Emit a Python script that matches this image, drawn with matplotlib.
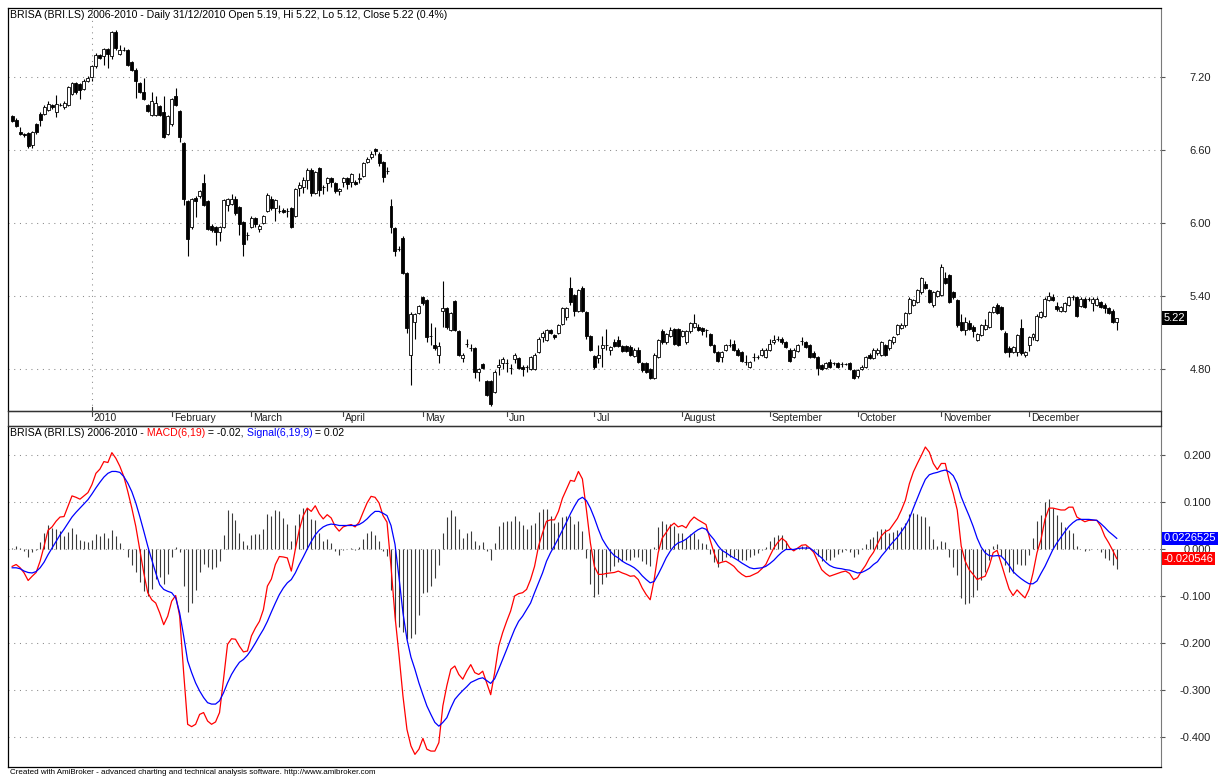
import numpy as np
import pandas as pd
import matplotlib
matplotlib.use("Agg")
import matplotlib.pyplot as plt
import matplotlib.transforms as mtransforms
from matplotlib.lines import Line2D
from matplotlib.patches import Rectangle

plt.rcParams['font.family'] = ['Liberation Sans', 'DejaVu Sans']

# ---- data (BRISA daily, 03/12/2009 - 31/12/2010) ----
holidays = pd.to_datetime(["2009-12-25", "2010-01-01", "2010-04-02", "2010-04-05"])
dates = pd.bdate_range("2009-12-03", "2010-12-31")
dates = dates[~dates.isin(holidays)]

open_ = [
    6.88, 6.85, 6.75, 6.73, 6.74, 6.64, 6.81, 6.90, 6.90, 6.93,
    6.97, 6.91, 6.97, 6.95, 6.97, 7.06, 7.15, 7.14, 7.10, 7.17,
    7.20, 7.29, 7.38, 7.37, 7.43, 7.37, 7.57, 7.39, 7.42, 7.42,
    7.32, 7.26, 7.15, 7.08, 6.97, 6.89, 6.89, 6.96, 6.91, 6.73,
    6.81, 7.04, 6.92, 6.66, 6.18, 5.97, 6.21, 6.22, 6.33, 6.18,
    5.98, 5.97, 5.93, 5.97, 6.15, 6.16, 6.20, 6.13, 6.01, 5.90,
    5.97, 6.04, 5.95, 6.00, 6.10, 6.20, 6.12, 6.10, 6.11, 6.10,
    6.12, 6.06, 6.29, 6.30, 6.35, 6.44, 6.25, 6.45, 6.30, 6.33,
    6.37, 6.33, 6.26, 6.34, 6.37, 6.34, 6.34, 6.36, 6.39, 6.50,
    6.54, 6.61, 6.57, 6.50, 6.43, 6.14, 5.96, 5.79, 5.88, 5.59,
    4.92, 5.19, 5.26, 5.39, 5.37, 5.07, 5.00, 4.92, 5.28, 5.30,
    5.12, 5.36, 5.11, 4.89, 5.01, 4.97, 4.97, 4.78, 4.84, 4.70,
    4.70, 4.61, 4.82, 4.85, 4.85, 4.81, 4.88, 4.89, 4.82, 4.82,
    4.80, 4.80, 4.94, 5.06, 5.04, 5.12, 5.08, 5.10, 5.17, 5.23,
    5.47, 5.41, 5.28, 5.47, 5.27, 5.07, 4.91, 4.89, 4.97, 5.00,
    4.96, 5.02, 5.04, 4.99, 4.99, 4.98, 4.91, 4.96, 4.85, 4.85,
    4.80, 4.73, 4.90, 5.11, 5.02, 5.07, 5.13, 5.13, 5.07, 5.02,
    5.11, 5.15, 5.15, 5.14, 5.12, 5.09, 5.00, 4.94, 4.90, 4.96,
    5.00, 5.01, 4.96, 4.94, 4.86, 4.82, 4.90, 4.90, 4.92, 4.90,
    4.96, 5.02, 5.05, 5.05, 5.02, 4.96, 4.90, 4.95, 5.03, 5.02,
    5.00, 4.93, 4.90, 4.83, 4.81, 4.86, 4.85, 4.85, 4.84, 4.84,
    4.85, 4.79, 4.74, 4.80, 4.82, 4.92, 4.89, 4.93, 4.92, 5.00,
    4.97, 5.02, 5.09, 5.14, 5.16, 5.26, 5.33, 5.35, 5.43, 5.50,
    5.45, 5.33, 5.40, 5.41, 5.55, 5.57, 5.43, 5.37, 5.19, 5.12,
    5.18, 5.15, 5.04, 5.08, 5.13, 5.15, 5.27, 5.33, 5.31, 5.10,
    4.97, 4.94, 4.94, 5.14, 4.92, 5.00, 5.06, 5.04, 5.23, 5.24,
    5.37, 5.39, 5.32, 5.28, 5.28, 5.33, 5.39, 5.39, 5.32, 5.38,
    5.38, 5.34, 5.33, 5.35, 5.33, 5.30, 5.28, 5.19,
]
high_ = [
    6.89, 6.86, 6.79, 6.74, 6.75, 6.76, 6.82, 6.91, 6.97, 7.00,
    6.98, 7.05, 6.99, 7.00, 7.13, 7.16, 7.16, 7.15, 7.18, 7.21,
    7.30, 7.40, 7.39, 7.44, 7.44, 7.58, 7.59, 7.46, 7.45, 7.43,
    7.33, 7.27, 7.16, 7.19, 6.98, 7.08, 7.04, 6.97, 7.04, 6.89,
    7.03, 7.11, 6.93, 6.67, 6.19, 6.21, 6.22, 6.27, 6.40, 6.19,
    5.99, 5.98, 5.98, 6.20, 6.21, 6.24, 6.22, 6.14, 6.02, 5.93,
    6.06, 6.05, 5.99, 6.07, 6.25, 6.22, 6.20, 6.15, 6.12, 6.12,
    6.13, 6.29, 6.34, 6.38, 6.45, 6.45, 6.43, 6.46, 6.31, 6.38,
    6.38, 6.34, 6.29, 6.38, 6.38, 6.41, 6.35, 6.41, 6.50, 6.54,
    6.59, 6.62, 6.58, 6.51, 6.46, 6.20, 5.97, 5.81, 5.89, 5.60,
    5.27, 5.26, 5.33, 5.40, 5.38, 5.18, 5.15, 5.02, 5.52, 5.31,
    5.27, 5.37, 5.12, 4.93, 5.05, 5.01, 4.98, 4.81, 4.85, 4.71,
    4.71, 4.79, 4.88, 4.90, 4.88, 4.84, 4.93, 4.90, 4.83, 4.83,
    4.91, 4.93, 5.06, 5.11, 5.13, 5.13, 5.09, 5.17, 5.31, 5.31,
    5.56, 5.42, 5.46, 5.48, 5.28, 5.08, 4.92, 5.00, 5.07, 5.13,
    4.99, 5.05, 5.07, 5.00, 5.00, 5.00, 4.97, 4.98, 4.86, 4.86,
    4.81, 4.93, 5.05, 5.13, 5.10, 5.15, 5.14, 5.14, 5.12, 5.12,
    5.19, 5.25, 5.17, 5.15, 5.13, 5.10, 5.01, 4.95, 4.95, 5.01,
    5.05, 5.04, 4.97, 4.95, 4.92, 4.87, 4.93, 4.92, 4.97, 4.97,
    5.05, 5.08, 5.07, 5.06, 5.03, 4.97, 4.97, 5.01, 5.06, 5.03,
    5.01, 4.95, 4.91, 4.84, 4.86, 4.88, 4.86, 4.86, 4.86, 4.85,
    4.86, 4.80, 4.80, 4.83, 4.91, 4.93, 4.97, 4.97, 5.03, 5.01,
    5.05, 5.07, 5.17, 5.18, 5.27, 5.39, 5.38, 5.46, 5.56, 5.52,
    5.46, 5.44, 5.45, 5.66, 5.60, 5.58, 5.44, 5.38, 5.25, 5.23,
    5.20, 5.16, 5.10, 5.17, 5.21, 5.28, 5.32, 5.34, 5.32, 5.11,
    4.99, 4.99, 5.09, 5.21, 4.95, 5.07, 5.10, 5.25, 5.28, 5.39,
    5.43, 5.42, 5.35, 5.32, 5.35, 5.40, 5.41, 5.40, 5.39, 5.39,
    5.39, 5.39, 5.39, 5.36, 5.34, 5.31, 5.29, 5.22,
]
low_ = [
    6.83, 6.79, 6.72, 6.71, 6.62, 6.62, 6.73, 6.80, 6.89, 6.92,
    6.94, 6.87, 6.96, 6.94, 6.96, 7.05, 7.06, 7.02, 7.09, 7.16,
    7.17, 7.27, 7.35, 7.30, 7.27, 7.35, 7.42, 7.38, 7.41, 7.29,
    7.25, 7.03, 7.07, 7.01, 6.91, 6.88, 6.88, 6.88, 6.70, 6.72,
    6.80, 6.96, 6.67, 6.15, 5.73, 5.95, 6.05, 6.21, 6.14, 5.94,
    5.93, 5.82, 5.85, 5.96, 6.10, 6.15, 6.07, 5.90, 5.73, 5.86,
    5.96, 5.97, 5.93, 5.99, 6.09, 6.11, 6.02, 6.08, 6.08, 6.05,
    5.96, 6.05, 6.22, 6.25, 6.28, 6.22, 6.24, 6.22, 6.24, 6.26,
    6.30, 6.25, 6.23, 6.30, 6.28, 6.30, 6.31, 6.33, 6.38, 6.49,
    6.53, 6.56, 6.47, 6.34, 6.40, 5.92, 5.73, 5.77, 5.58, 5.10,
    4.67, 5.05, 5.25, 5.33, 5.02, 5.00, 4.96, 4.85, 5.15, 5.13,
    5.11, 5.11, 4.91, 4.86, 4.98, 4.95, 4.73, 4.70, 4.80, 4.58,
    4.50, 4.60, 4.75, 4.80, 4.78, 4.76, 4.85, 4.80, 4.74, 4.78,
    4.79, 4.79, 4.93, 5.02, 5.03, 5.09, 5.05, 5.09, 5.16, 5.20,
    5.33, 5.24, 5.27, 5.27, 5.05, 4.95, 4.80, 4.85, 4.82, 4.96,
    4.92, 4.98, 4.98, 4.94, 4.94, 4.91, 4.90, 4.85, 4.78, 4.77,
    4.72, 4.72, 4.89, 5.01, 5.01, 5.06, 5.00, 4.99, 5.06, 5.01,
    5.10, 5.14, 5.11, 5.08, 5.06, 4.99, 4.93, 4.86, 4.86, 4.95,
    4.98, 4.95, 4.91, 4.86, 4.83, 4.81, 4.87, 4.88, 4.91, 4.89,
    4.95, 5.01, 5.03, 5.01, 4.97, 4.86, 4.89, 4.94, 5.00, 4.97,
    4.89, 4.89, 4.75, 4.79, 4.80, 4.81, 4.83, 4.81, 4.82, 4.83,
    4.79, 4.72, 4.73, 4.79, 4.81, 4.88, 4.88, 4.92, 4.91, 4.91,
    4.96, 5.01, 5.08, 5.13, 5.15, 5.25, 5.32, 5.34, 5.42, 5.46,
    5.34, 5.31, 5.39, 5.40, 5.50, 5.34, 5.38, 5.15, 5.11, 5.08,
    5.12, 5.06, 5.03, 5.07, 5.12, 5.14, 5.26, 5.25, 5.12, 4.93,
    4.90, 4.93, 4.91, 4.92, 4.90, 4.95, 5.04, 5.03, 5.22, 5.23,
    5.36, 5.36, 5.28, 5.27, 5.27, 5.32, 5.37, 5.23, 5.31, 5.30,
    5.36, 5.28, 5.32, 5.30, 5.26, 5.25, 5.18, 5.12,
]
close_ = [
    6.84, 6.80, 6.73, 6.72, 6.63, 6.75, 6.75, 6.85, 6.95, 6.98,
    6.95, 6.98, 6.97, 6.99, 7.12, 7.15, 7.08, 7.09, 7.17, 7.19,
    7.29, 7.38, 7.36, 7.43, 7.39, 7.57, 7.44, 7.42, 7.42, 7.30,
    7.26, 7.17, 7.08, 7.02, 6.92, 7.00, 6.99, 6.89, 6.71, 6.88,
    7.02, 6.97, 6.71, 6.20, 5.87, 6.20, 6.18, 6.26, 6.15, 5.95,
    5.94, 5.93, 5.97, 6.19, 6.20, 6.20, 6.08, 5.99, 5.83, 5.90,
    6.04, 5.99, 5.98, 6.06, 6.23, 6.12, 6.19, 6.10, 6.09, 6.10,
    5.97, 6.28, 6.31, 6.35, 6.44, 6.25, 6.42, 6.27, 6.30, 6.37,
    6.34, 6.26, 6.28, 6.37, 6.32, 6.40, 6.32, 6.37, 6.49, 6.53,
    6.57, 6.59, 6.49, 6.38, 6.43, 5.97, 5.77, 5.79, 5.59, 5.14,
    5.25, 5.25, 5.32, 5.34, 5.06, 5.07, 4.97, 4.99, 5.30, 5.15,
    5.26, 5.12, 4.92, 4.92, 5.01, 4.97, 4.78, 4.80, 4.81, 4.59,
    4.51, 4.78, 4.83, 4.88, 4.85, 4.81, 4.92, 4.81, 4.80, 4.82,
    4.90, 4.92, 5.05, 5.10, 5.12, 5.10, 5.06, 5.16, 5.30, 5.30,
    5.35, 5.28, 5.45, 5.28, 5.07, 4.96, 4.82, 4.92, 5.00, 5.00,
    4.98, 4.99, 4.99, 4.95, 4.95, 4.92, 4.96, 4.86, 4.79, 4.78,
    4.73, 4.92, 5.04, 5.02, 5.09, 5.12, 5.01, 5.00, 5.11, 5.11,
    5.18, 5.18, 5.12, 5.11, 5.12, 5.00, 4.94, 4.87, 4.94, 5.00,
    5.00, 4.96, 4.92, 4.87, 4.86, 4.86, 4.90, 4.90, 4.96, 4.96,
    5.01, 5.04, 5.05, 5.02, 4.98, 4.87, 4.96, 5.00, 5.03, 4.98,
    4.90, 4.90, 4.81, 4.80, 4.85, 4.82, 4.85, 4.82, 4.84, 4.84,
    4.80, 4.73, 4.79, 4.82, 4.90, 4.89, 4.96, 4.96, 5.02, 4.92,
    5.04, 5.06, 5.16, 5.16, 5.26, 5.38, 5.37, 5.45, 5.55, 5.47,
    5.35, 5.43, 5.44, 5.64, 5.51, 5.35, 5.39, 5.16, 5.12, 5.19,
    5.13, 5.11, 5.09, 5.16, 5.16, 5.27, 5.31, 5.26, 5.13, 4.94,
    4.94, 4.98, 5.08, 4.93, 4.94, 5.06, 5.09, 5.24, 5.27, 5.38,
    5.40, 5.37, 5.29, 5.31, 5.34, 5.39, 5.39, 5.24, 5.38, 5.31,
    5.38, 5.38, 5.38, 5.31, 5.30, 5.26, 5.19, 5.22,
]

# MACD(6,19) and Signal(6,19,9) as drawn in the lower pane
macd = [
    -0.037, -0.033, -0.040, -0.051, -0.067, -0.058, -0.050, -0.026, 0.006, 0.040,
    0.047, 0.059, 0.068, 0.069, 0.091, 0.113, 0.110, 0.106, 0.113, 0.120,
    0.137, 0.161, 0.170, 0.186, 0.184, 0.205, 0.193, 0.176, 0.154, 0.122,
    0.087, 0.048, -0.001, -0.051, -0.093, -0.108, -0.115, -0.136, -0.161, -0.143,
    -0.111, -0.099, -0.143, -0.263, -0.373, -0.378, -0.373, -0.352, -0.348, -0.366,
    -0.373, -0.368, -0.348, -0.277, -0.203, -0.191, -0.192, -0.207, -0.219, -0.217,
    -0.185, -0.168, -0.154, -0.129, -0.079, -0.064, -0.033, -0.016, -0.017, -0.019,
    -0.047, -0.001, 0.041, 0.071, 0.087, 0.080, 0.092, 0.075, 0.064, 0.073,
    0.066, 0.048, 0.038, 0.047, 0.050, 0.052, 0.047, 0.057, 0.078, 0.098,
    0.112, 0.110, 0.098, 0.071, 0.057, -0.037, -0.143, -0.225, -0.313, -0.384,
    -0.419, -0.437, -0.426, -0.403, -0.426, -0.430, -0.430, -0.412, -0.334, -0.291,
    -0.256, -0.249, -0.267, -0.277, -0.260, -0.246, -0.263, -0.267, -0.260, -0.285,
    -0.310, -0.263, -0.207, -0.178, -0.154, -0.132, -0.100, -0.095, -0.093, -0.086,
    -0.065, -0.037, 0.006, 0.034, 0.059, 0.062, 0.062, 0.080, 0.108, 0.127,
    0.146, 0.144, 0.165, 0.149, 0.084, 0.013, -0.037, -0.054, -0.054, -0.052,
    -0.051, -0.050, -0.047, -0.051, -0.054, -0.058, -0.057, -0.065, -0.083, -0.097,
    -0.108, -0.065, -0.008, 0.023, 0.035, 0.048, 0.055, 0.047, 0.050, 0.045,
    0.059, 0.068, 0.062, 0.057, 0.052, 0.020, -0.008, -0.031, -0.028, -0.026,
    -0.031, -0.037, -0.047, -0.054, -0.059, -0.058, -0.054, -0.050, -0.042, -0.033,
    -0.015, 0.002, 0.014, 0.023, 0.016, 0.002, -0.004, 0.002, 0.008, 0.009,
    0.002, -0.007, -0.026, -0.044, -0.052, -0.058, -0.055, -0.052, -0.049, -0.047,
    -0.052, -0.065, -0.061, -0.047, -0.035, -0.019, -0.007, 0.011, 0.028, 0.037,
    0.041, 0.053, 0.065, 0.083, 0.104, 0.139, 0.164, 0.182, 0.199, 0.217,
    0.206, 0.182, 0.169, 0.182, 0.182, 0.146, 0.118, 0.083, 0.006, -0.026,
    -0.044, -0.054, -0.065, -0.061, -0.058, -0.037, -0.008, -0.003, -0.030, -0.058,
    -0.085, -0.099, -0.087, -0.096, -0.104, -0.086, -0.051, -0.008, 0.020, 0.063,
    0.087, 0.087, 0.085, 0.083, 0.083, 0.089, 0.089, 0.068, 0.063, 0.058,
    0.061, 0.061, 0.061, 0.048, 0.027, 0.013, -0.003, -0.020546,
]
signal = [
    -0.040, -0.040, -0.042, -0.047, -0.050, -0.051, -0.048, -0.040, -0.028, -0.012,
    0.002, 0.016, 0.030, 0.042, 0.055, 0.068, 0.078, 0.087, 0.096, 0.105,
    0.117, 0.130, 0.142, 0.153, 0.161, 0.165, 0.165, 0.163, 0.154, 0.140,
    0.122, 0.098, 0.069, 0.038, 0.006, -0.023, -0.051, -0.076, -0.086, -0.090,
    -0.093, -0.104, -0.136, -0.185, -0.238, -0.263, -0.285, -0.302, -0.316, -0.327,
    -0.330, -0.330, -0.323, -0.306, -0.285, -0.267, -0.253, -0.241, -0.235, -0.226,
    -0.214, -0.200, -0.185, -0.171, -0.154, -0.134, -0.115, -0.097, -0.083, -0.072,
    -0.065, -0.051, -0.033, -0.017, 0.000, 0.016, 0.030, 0.040, 0.047, 0.051,
    0.053, 0.052, 0.050, 0.050, 0.050, 0.050, 0.050, 0.052, 0.057, 0.064,
    0.073, 0.080, 0.080, 0.076, 0.071, 0.050, 0.010, -0.060, -0.136, -0.192,
    -0.230, -0.256, -0.285, -0.310, -0.334, -0.352, -0.369, -0.377, -0.369, -0.359,
    -0.338, -0.320, -0.310, -0.301, -0.293, -0.284, -0.280, -0.276, -0.274, -0.280,
    -0.286, -0.276, -0.256, -0.235, -0.214, -0.192, -0.171, -0.154, -0.143, -0.129,
    -0.115, -0.093, -0.072, -0.051, -0.026, -0.008, 0.007, 0.023, 0.040, 0.057,
    0.075, 0.091, 0.105, 0.110, 0.103, 0.087, 0.066, 0.042, 0.021, 0.007,
    -0.005, -0.014, -0.019, -0.026, -0.031, -0.035, -0.040, -0.047, -0.057, -0.065,
    -0.072, -0.069, -0.054, -0.037, -0.019, -0.005, 0.006, 0.013, 0.016, 0.021,
    0.028, 0.035, 0.041, 0.045, 0.042, 0.030, 0.020, 0.007, -0.003, -0.008,
    -0.014, -0.019, -0.024, -0.030, -0.035, -0.040, -0.042, -0.041, -0.040, -0.037,
    -0.031, -0.024, -0.015, -0.007, -0.001, -0.001, -0.001, 0.001, 0.002, 0.002,
    0.002, -0.004, -0.012, -0.019, -0.028, -0.035, -0.039, -0.041, -0.042, -0.044,
    -0.045, -0.048, -0.051, -0.050, -0.046, -0.041, -0.033, -0.027, -0.015, -0.005,
    0.006, 0.016, 0.025, 0.037, 0.049, 0.065, 0.087, 0.108, 0.129, 0.148,
    0.158, 0.161, 0.163, 0.166, 0.168, 0.164, 0.156, 0.139, 0.111, 0.090,
    0.070, 0.048, 0.023, 0.004, -0.008, -0.014, -0.015, -0.014, -0.015, -0.024,
    -0.035, -0.048, -0.056, -0.063, -0.069, -0.074, -0.074, -0.068, -0.052, -0.037,
    -0.019, -0.001, 0.013, 0.025, 0.037, 0.048, 0.056, 0.062, 0.063, 0.063,
    0.063, 0.062, 0.061, 0.054, 0.046, 0.037, 0.030, 0.0226525,
]

price_ticks = [4.80, 5.40, 6.00, 6.60, 7.20]
macd_ticks = [0.2, 0.1, 0.0, -0.1, -0.2, -0.3, -0.4]
macd_tick_labels = ["0.200", "0.100", "0.000", "-0.100", "-0.200", "-0.300", "-0.400"]
month_labels = ["2010", "February", "March", "April", "May", "Jun", "Jul",
                "August", "September", "October", "November", "December"]

title = "BRISA (BRI.LS) 2006-2010 - Daily 31/12/2010 Open 5.19, Hi 5.22, Lo 5.12, Close 5.22 (0.4%)"
footer = "Created with AmiBroker - advanced charting and technical analysis software. http://www.amibroker.com"

# ---- figure layout (pixel based, 1219 x 778) ----
W, H = 1219, 778
def fx(px):
    return px / W
def fy(py):
    return 1 - py / H

fig = plt.figure(figsize=(W / 100, H / 100), dpi=100)
fig.patch.set_facecolor("white")

ax = fig.add_axes([fx(8), fy(411), fx(1161) - fx(8), fy(8) - fy(411)])
axm = fig.add_axes([fx(8), fy(766.5), fx(1161) - fx(8), fy(426) - fy(766.5)])

o = np.array(open_)
h = np.array(high_)
l = np.array(low_)
c = np.array(close_)
m = np.array(macd)
s = np.array(signal)
x = np.arange(len(c))

gridkw = dict(color="#8a8a8a", linestyle=(0, (1, 4.5)), lw=0.75)

# ---- price pane ----
ax.vlines(x, l, h, color="black", lw=0.8, zorder=2)
up = c >= o
ax.bar(x, np.abs(c - o), bottom=np.minimum(o, c), width=0.75,
       color=np.where(up, "white", "black"), edgecolor="black", lw=0.6, zorder=3)

ax.set_xlim(-1.05, 288.1)
ax.set_ylim(4.456, 7.767)
ax.yaxis.tick_right()
ax.set_yticks(price_ticks)
ax.set_yticklabels(["%.2f" % v for v in price_ticks])
ax.tick_params(axis="y", length=3, width=0.8, color="#555555", pad=33,
               labelsize=8, labelcolor="#222222")
for lbl in ax.get_yticklabels():
    lbl.set_horizontalalignment("right")
ax.tick_params(axis="x", bottom=False, labelbottom=False)
ax.grid(axis="y", **gridkw)

# year separator
month_idx = [int(np.argmax((dates.year == 2010) & (dates.month == k))) for k in range(1, 13)]
ax.axvline(month_idx[0], **gridkw)

for sp in ["top", "left", "bottom"]:
    ax.spines[sp].set_color("black")
    ax.spines[sp].set_linewidth(0.9)
ax.spines["right"].set_color("#7a7a7a")

# last price box
ptrans = mtransforms.blended_transform_factory(ax.transAxes, ax.transData)
ax.text(1.002, c[-1], "%.2f" % c[-1], transform=ptrans,
        color="white", fontsize=8, va="center", ha="left",
        bbox=dict(facecolor="black", edgecolor="none", pad=1.2))

# ---- date strip ----
fig.add_artist(Rectangle((fx(8), fy(426)), fx(1161) - fx(8), fy(411) - fy(426),
                         transform=fig.transFigure, facecolor="none", edgecolor="#333333", lw=0.9))
trans = mtransforms.blended_transform_factory(ax.transData, fig.transFigure)
for k, (idx, lab) in enumerate(zip(month_idx, month_labels)):
    top = 407 if k == 0 else 411
    fig.add_artist(Line2D([idx, idx], [fy(top), fy(416)], transform=trans, color="#444444", lw=0.8))
    ax.text(idx + 0.5, fy(418.5), lab, transform=trans, fontsize=7.5,
            va="center", ha="left", color="#222222")

# ---- MACD pane ----
axm.vlines(x, 0, m - s, color="#3a3a3a", lw=0.8, zorder=2)
axm.plot(x, m, color="#ff0000", lw=0.9, zorder=3)
axm.plot(x, s, color="#0000ff", lw=0.9, zorder=3)
axm.set_xlim(-1.05, 288.1)
axm.set_ylim(-0.4628, 0.2617)
axm.yaxis.tick_right()
axm.set_yticks(macd_ticks)
axm.set_yticklabels(macd_tick_labels)
axm.tick_params(axis="y", length=3, width=0.8, color="#555555", pad=33,
                labelsize=8, labelcolor="#222222")
for lbl in axm.get_yticklabels():
    lbl.set_horizontalalignment("right")
axm.tick_params(axis="x", bottom=False, labelbottom=False)
axm.grid(axis="y", **gridkw)
for sp in ["top", "left", "bottom"]:
    axm.spines[sp].set_color("black")
    axm.spines[sp].set_linewidth(0.9)
axm.spines["right"].set_color("#7a7a7a")

btrans = mtransforms.blended_transform_factory(axm.transAxes, axm.transData)
axm.text(1.002, s[-1], "%.7f" % s[-1], transform=btrans, color="white", fontsize=8,
         va="center", ha="left", bbox=dict(facecolor="#0000ff", edgecolor="none", pad=1.3), zorder=5)
axm.text(1.002, m[-1], "%.6f" % m[-1], transform=btrans, color="white", fontsize=8,
         va="center", ha="left", bbox=dict(facecolor="#ff0000", edgecolor="none", pad=1.3), zorder=5)

# ---- titles ----
fig.text(fx(10), fy(15), title, fontsize=7.6, va="center", ha="left", color="black")

parts = [("BRISA (BRI.LS) 2006-2010 -", "black"), (" MACD(6,19)", "#ff0000"),
         (" = %.2f," % m[-1], "black"), (" Signal(6,19,9)", "#0000ff"),
         (" = %.2f" % s[-1], "black")]
t = fig.text(fx(10), fy(437.5), parts[0][0], fontsize=7.6, va="bottom", ha="left", color=parts[0][1])
for txt, col in parts[1:]:
    t = axm.annotate(txt, xy=(1, 0), xycoords=t, va="bottom", ha="left",
                     fontsize=7.6, color=col)

fig.text(fx(10), fy(772), footer, fontsize=5.8, va="center", ha="left", color="black")

fig.savefig("out.png", dpi=100)
